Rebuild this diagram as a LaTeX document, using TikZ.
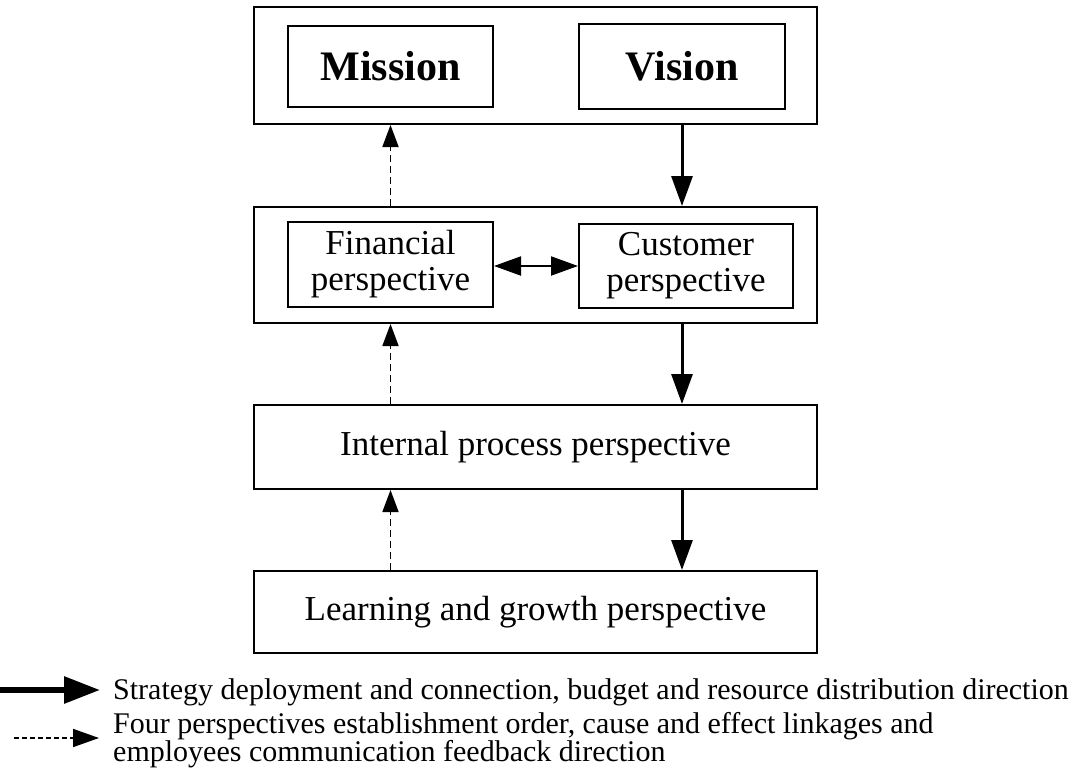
\documentclass[tikz,border=0pt]{standalone}
\usepackage{fontspec}
\setmainfont{Liberation Serif}
\usetikzlibrary{arrows.meta}
\begin{document}
\begin{tikzpicture}[x=1pt,y=-1pt,
  outerbox/.style={draw,line width=2pt,minimum width=563pt,inner sep=0pt},
  innerbox/.style={draw,line width=2pt,inner sep=0pt,align=center},
  bigtext/.style={font=\fontsize{42}{48}\selectfont\bfseries},
  midtext/.style={font=\fontsize{35}{36}\selectfont},
  legtext/.style={font=\fontsize{30}{28}\selectfont,align=left,inner sep=0pt},
  solidarrow/.style={line width=3pt,-{Triangle[length=30pt,width=21pt]}},
  dasharrow/.style={line width=1.8pt,dash pattern=on 7pt off 4pt,-{Triangle[length=22pt,width=16pt]}},
  dblarrow/.style={line width=2pt,{Triangle[length=27pt,width=19pt]}-{Triangle[length=27pt,width=19pt]}},
  legsolid/.style={line width=6pt,-{Triangle[length=36pt,width=26pt]}},
  legdash/.style={line width=1.8pt,dash pattern=on 5pt off 3pt,-{Triangle[length=26pt,width=18pt]}}
]
\useasboundingbox (0,0) rectangle (1080,769);

% top box
\node[outerbox,minimum height=117pt] (top) at (535.5,65.5) {};
\node[innerbox,bigtext,minimum width=205pt,minimum height=81pt] (mis) at (390.5,66.5) {Mission};
\node[innerbox,bigtext,minimum width=206pt,minimum height=85pt] (vis) at (682,66.5) {Vision};

% second box
\node[outerbox,minimum height=116pt] (fc) at (535.5,265) {};
\node[innerbox,midtext,minimum width=205pt,minimum height=85pt] (fin) at (390.5,264.5) {Financial\\perspective};
\node[innerbox,midtext,minimum width=214pt,minimum height=84pt] (cus) at (686,266) {Customer\\perspective};

% third and fourth
\node[outerbox,midtext,minimum height=84pt] (ip) at (535.5,447) {Internal process perspective};
\node[outerbox,midtext,minimum height=82pt] (lg) at (535.5,612) {Learning and growth perspective};

% arrows
\draw[solidarrow] (vis |- top.south) -- (vis |- fc.north);
\draw[solidarrow] (vis |- fc.south) -- (vis |- ip.north);
\draw[solidarrow] (vis |- ip.south) -- (vis |- lg.north);
\draw[dasharrow] (fin |- fc.north) -- (fin |- top.south);
\draw[dasharrow] (fin |- ip.north) -- (fin |- fc.south);
\draw[dasharrow] (fin |- lg.north) -- (fin |- ip.south);
\draw[dblarrow] (fin.east |- cus.west) -- (cus.west);

% legend
\node[legtext,anchor=base west] (l1) at (113,699) {Strategy deployment and connection, budget and resource distribution direction};
\node[legtext,anchor=north west] (l2) at (113,712) {Four perspectives establishment order, cause and effect linkages and\\employees communication feedback direction};
\coordinate (s1) at (0,690);
\coordinate (s2) at (100,690);
\coordinate (d1) at (14,738);
\coordinate (d2) at (99,738);
\draw[legsolid] (s1) -- (s2);
\draw[legdash] (d1) -- (d2);
\end{tikzpicture}
\end{document}
